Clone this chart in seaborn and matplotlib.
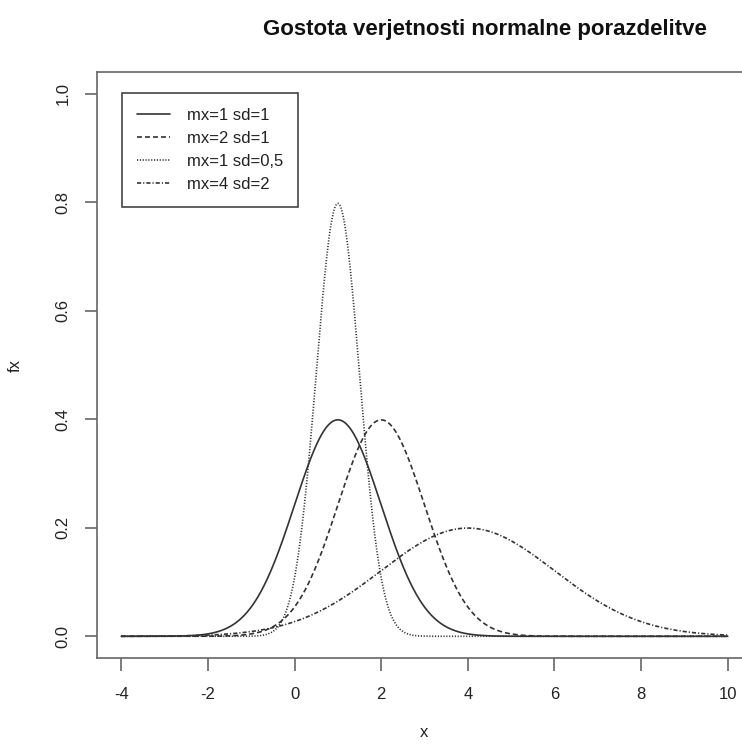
import numpy as np
import pandas as pd
import seaborn as sns
import matplotlib.pyplot as plt

# Parametri porazdelitev (iz legende)
mx = [1, 2, 1, 4]
sd = [1, 1, 0.5, 2]
labels = ["mx=1 sd=1", "mx=2 sd=1", "mx=1 sd=0,5", "mx=4 sd=2"]
x_from, x_to = -4, 10
x_ticks = [-4, -2, 0, 2, 4, 6, 8, 10]
y_ticks = [0.0, 0.2, 0.4, 0.6, 0.8, 1.0]

sns.set_theme(style="white")
plt.rcParams['font.family'] = ['Liberation Sans', 'DejaVu Sans']

# gostota normalne porazdelitve na mrezi x (kot dnorm v R)
x = np.arange(x_from, x_to + 0.005, 0.01)
rows = []
for m, s, lab in zip(mx, sd, labels):
    fx = np.exp(-0.5 * ((x - m) / s) ** 2) / (s * np.sqrt(2 * np.pi))
    rows.append(pd.DataFrame({"x": x, "fx": fx, "lab": lab}))
df = pd.concat(rows, ignore_index=True)

styles = ["-", (0, (3, 1.8)), (0, (0.7, 1.0)), (0, (2.5, 1.2, 0.7, 1.2))]
col = "#333333"

fig = plt.figure(figsize=(7.42, 7.47), dpi=100)
ax = fig.add_axes([97 / 742, 1 - 658 / 747, 655 / 742, 586 / 747])

for lab, ls in zip(labels, styles):
    sns.lineplot(data=df[df["lab"] == lab], x="x", y="fx", ax=ax,
                 color=col, linewidth=1.2, linestyle=ls, label=lab)

ax.set_xlim(-4.56, 10.56)
ax.set_ylim(-0.04, 1.04)
ax.set_xticks(x_ticks)
ax.set_xticklabels([str(t) for t in x_ticks])
ax.set_yticks(y_ticks)
ax.set_yticklabels(["%.1f" % t for t in y_ticks], rotation=90, va="center")
ax.tick_params(axis="both", direction="out", length=9, width=1.2,
               color="#666666", labelsize=12, labelcolor="#222222",
               bottom=True, left=True)
ax.tick_params(axis="x", pad=12)
ax.tick_params(axis="y", pad=10)
for sp in ax.spines.values():
    sp.set_color("#666666")
    sp.set_linewidth(1.2)

ax.set_xlabel("x", fontsize=12, color="#222222")
ax.set_ylabel("fx", fontsize=12, color="#222222", labelpad=24)
ax.xaxis.set_label_coords(0.5, -0.115)

# Legenda
leg = ax.legend(loc="upper left", bbox_to_anchor=(0.038, 0.964),
                borderaxespad=0, fancybox=False, fontsize=12,
                handlelength=2.0, labelspacing=0.48, borderpad=0.9,
                handletextpad=1.0, framealpha=1)
leg.get_frame().set_edgecolor("#444444")
leg.get_frame().set_linewidth(1.2)
for t in leg.get_texts():
    t.set_color("#222222")

# Naslov
fig.text(485 / 742, 1 - 30 / 747, "Gostota verjetnosti normalne porazdelitve",
         ha="center", va="center", fontsize=16, fontweight="bold",
         color="#111111")

fig.savefig("out.png", dpi=100)
